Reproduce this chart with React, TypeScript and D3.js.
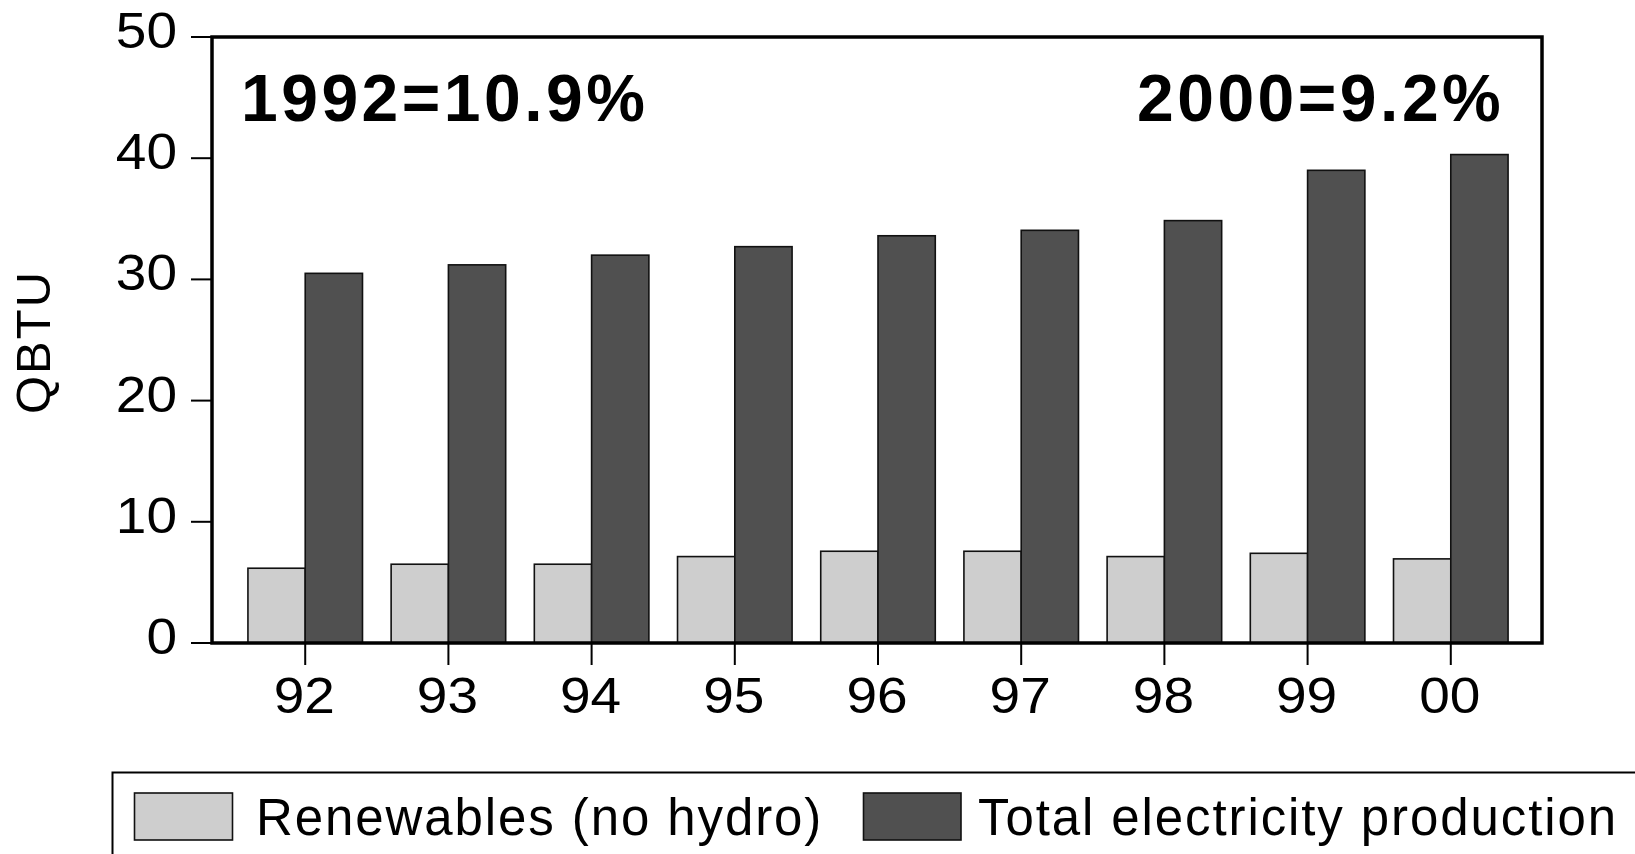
import React from "react";
import * as d3 from "d3";

const years = ["92", "93", "94", "95", "96", "97", "98", "99", "00"];
const renewables = [6.17, 6.5, 6.5, 7.13, 7.57, 7.57, 7.13, 7.4, 6.94];
const totalElec = [30.5, 31.2, 32.0, 32.7, 33.6, 34.05, 34.85, 39.0, 40.3];
const yTicks = [0, 10, 20, 30, 40, 50];
const seriesNames = ["Renewables (no hydro)", "Total electricity production"];
const seriesColors = ["#cecece", "#505050"];
const annotationLeft = "1992=10.9%";
const annotationRight = "2000=9.2%";
const yTitle = "QBTU";

const FONT = "'Liberation Sans', Arial, Helvetica, sans-serif";

export default function App() {
  const W = 1635;
  const H = 854;
  const left = 212, right = 1542, top = 37, bottom = 643;
  const y = d3.scaleLinear().domain([0, 50]).range([bottom, top]);
  const x = d3.scalePoint<string>().domain(years).range([215, 1541]).padding(0.63);
  const barW = x.step() * 0.4;

  return (
    <svg
      width={W}
      height={H}
      style={{ position: "absolute", left: 0, top: 0, background: "#fff" }}
      fontFamily={FONT}
    >
      <rect x={0} y={0} width={W} height={H} fill="#fff" />
      {/* bars */}
      {years.map((c, i) => (
        <g key={c}>
          <rect
            x={(x(c) as number) - barW}
            y={y(renewables[i])}
            width={barW}
            height={y(0) - y(renewables[i])}
            fill={seriesColors[0]}
            stroke="#111"
            strokeWidth={1.6}
          />
          <rect
            x={x(c) as number}
            y={y(totalElec[i])}
            width={barW}
            height={y(0) - y(totalElec[i])}
            fill={seriesColors[1]}
            stroke="#111"
            strokeWidth={1.6}
          />
        </g>
      ))}
      {/* frame */}
      <rect
        x={left}
        y={top}
        width={right - left}
        height={bottom - top}
        fill="none"
        stroke="#000"
        strokeWidth={3.5}
      />
      {/* y ticks */}
      {yTicks.map((v) => (
        <g key={v}>
          <line x1={191} x2={left} y1={y(v)} y2={y(v)} stroke="#000" strokeWidth={2} />
          <text
            transform={`translate(177,${y(v) + 11}) scale(1.1,1)`}
            textAnchor="end"
            fontSize={50}
            fill="#000"
          >
            {v}
          </text>
        </g>
      ))}
      {/* x ticks */}
      {years.map((c) => (
        <g key={"t" + c}>
          <line x1={x(c)} x2={x(c)} y1={bottom} y2={665} stroke="#000" strokeWidth={2} />
          <text
            transform={`translate(${(x(c) as number) - 1},713) scale(1.1,1)`}
            textAnchor="middle"
            fontSize={50}
            fill="#000"
          >
            {c}
          </text>
        </g>
      ))}
      {/* y title */}
      <text
        transform={`translate(50,342) rotate(-90)`}
        textAnchor="middle"
        fontSize={49}
        letterSpacing={2}
        fill="#000"
      >
        {yTitle}
      </text>
      {/* annotations */}
      <text x={241} y={121} fontSize={66} fontWeight="bold" letterSpacing={3.5} fill="#000">
        {annotationLeft}
      </text>
      <text x={1137} y={121} fontSize={66} fontWeight="bold" letterSpacing={3.5} fill="#000">
        {annotationRight}
      </text>
      {/* legend */}
      <rect x={112.5} y={772.5} width={1600} height={200} fill="#fff" stroke="#000" strokeWidth={2} />
      <rect x={134.5} y={793} width={98} height={47} fill={seriesColors[0]} stroke="#111" strokeWidth={1.6} />
      <text x={256} y={835} fontSize={51} letterSpacing={1.9} fill="#000">
        {seriesNames[0]}
      </text>
      <rect x={863.5} y={793} width={97.5} height={47} fill={seriesColors[1]} stroke="#111" strokeWidth={1.6} />
      <text x={978} y={835} fontSize={51} letterSpacing={1.9} fill="#000">
        {seriesNames[1]}
      </text>
    </svg>
  );
}
